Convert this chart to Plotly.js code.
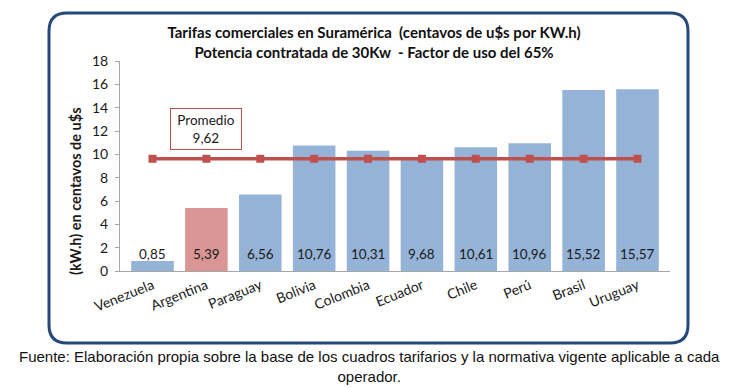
<!DOCTYPE html>
<html><head><meta charset="utf-8">
<script src="https://cdn.plot.ly/plotly-3.0.1.min.js"></script>
<style>html,body{margin:0;padding:0;background:#fff}#chart{width:733px;height:388px}</style>
</head><body><div id="chart"></div>
<script>
const paises = ['Venezuela','Argentina','Paraguay','Bolivia','Colombia','Ecuador','Chile','Perú','Brasil','Uruguay'];
const tarifas = [0.85,5.39,6.56,10.76,10.31,9.68,10.61,10.96,15.52,15.57];
const etiquetas = ['0,85','5,39','6,56','10,76','10,31','9,68','10,61','10,96','15,52','15,57'];
const promedio = [9.62,9.62,9.62,9.62,9.62,9.62,9.62,9.62,9.62,9.62];
const promedioTexto = 'Promedio<br>9,62';
const yTicks = [0,2,4,6,8,10,12,14,16,18];

const W = 733, H = 388;
const M = {l:120, r:63, t:61, b:117};
const PW = W - M.l - M.r, PH = H - M.t - M.b;
const fx = p => (p - M.l) / PW;
const fy = p => (H - M.b - p) / PH;

const FONT = 'Lato, "Open Sans", sans-serif';
const blue = '#95B3D7', pink = '#D99694', red = '#C0504D';

const bx0 = 49, bx1 = 688, by0 = 13, by1 = 343, r = 18;
const path = [
  'M', fx(bx0 + r), fy(by0),
  'L', fx(bx1 - r), fy(by0),
  'Q', fx(bx1), fy(by0), fx(bx1), fy(by0 + r),
  'L', fx(bx1), fy(by1 - r),
  'Q', fx(bx1), fy(by1), fx(bx1 - r), fy(by1),
  'L', fx(bx0 + r), fy(by1),
  'Q', fx(bx0), fy(by1), fx(bx0), fy(by1 - r),
  'L', fx(bx0), fy(by0 + r),
  'Q', fx(bx0), fy(by0), fx(bx0 + r), fy(by0), 'Z'
].join(' ');

const traces = [
  {type:'bar', x:paises, y:tarifas,
   marker:{color:paises.map((p,i)=> i===1 ? pink : blue)},
   hoverinfo:'x+y', showlegend:false},
  {type:'scatter', mode:'lines+markers', x:paises, y:promedio,
   line:{color:red, width:3.5}, marker:{symbol:'square', size:8, color:red},
   showlegend:false}
];

const annotations = paises.map((p,i)=>({
  x:p, y:0, xref:'x', yref:'y', text:etiquetas[i], showarrow:false,
  yanchor:'bottom', yshift:7, font:{family:FONT, size:13.5, color:'#1a1a1a'}
}));
annotations.push({
  x:'Argentina', y:12.13, xref:'x', yref:'y', text:promedioTexto, showarrow:false,
  font:{family:FONT, size:13.5, color:'#1a1a1a'}, bgcolor:'#fff',
  bordercolor:red, borderwidth:1, borderpad:2, width:66, height:36
});
annotations.push({
  xref:'paper', yref:'paper', x:fx(75), y:fy(191), xanchor:'center', yanchor:'middle', textangle:-90,
  text:'<b>(kW.h) en centavos de u$s</b>', showarrow:false,
  font:{family:FONT, size:14.5, color:'#1a1a1a'}
});
annotations.push({
  xref:'paper', yref:'paper', x:fx(369), y:fy(346), yanchor:'top', xanchor:'center',
  text:'Fuente: Elaboración propia sobre la base de los cuadros tarifarios y la normativa vigente aplicable a cada<br>operador.',
  showarrow:false, align:'center',
  font:{family:'"Liberation Sans", Arial, sans-serif', size:15, color:'#111'}
});

const layout = {
  width:W, height:H, margin:M, paper_bgcolor:'#fff', plot_bgcolor:'rgba(0,0,0,0)',
  title:{text:'<b>Tarifas comerciales en Suramérica  (centavos de u$s por KW.h)</b><br><b>Potencia contratada de 30Kw  - Factor de uso del 65%</b>',
         x:374/W, xanchor:'center', xref:'container', y:1-38/H, yanchor:'top', yref:'container',
         font:{family:FONT, size:15, color:'#111'}},
  bargap:0.21,
  xaxis:{type:'category', tickangle:-22, showline:true, linecolor:'#a6a6a6', linewidth:1,
         ticks:'', showgrid:false, tickfont:{family:FONT, size:14, color:'#1a1a1a'}, fixedrange:true},
  yaxis:{range:[0,18], tickvals:yTicks, ticktext:yTicks.map(String), showline:true, linecolor:'#a6a6a6',
         linewidth:1, ticks:'outside', ticklen:4, tickcolor:'#a6a6a6', showgrid:false, zeroline:false,
         tickfont:{family:FONT, size:14, color:'#1a1a1a'}, ticklabelstandoff:4},
  shapes:[{type:'path', xref:'paper', yref:'paper', path:path, line:{color:'#24497A', width:3}, layer:'below'}],
  annotations:annotations
};
Plotly.newPlot('chart', traces, layout, {displayModeBar:false, staticPlot:true});
</script></body></html>
